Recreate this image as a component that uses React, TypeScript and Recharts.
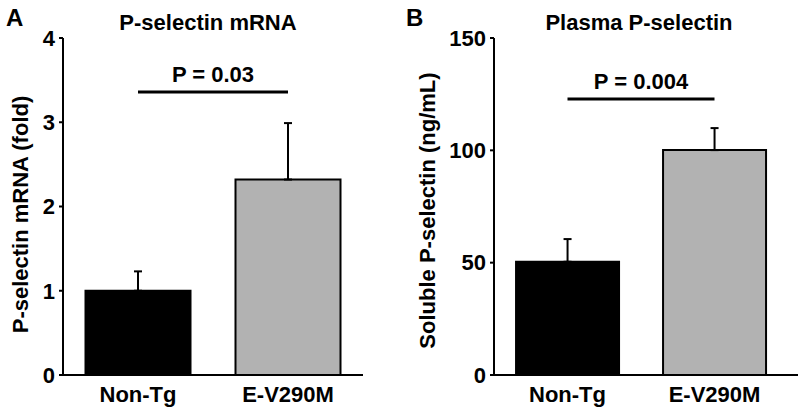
import { BarChart, Bar, XAxis, YAxis, ErrorBar, Cell, ReferenceLine } from "recharts";

const groups = ["Non-Tg", "E-V290M"];
const barColors = ["#000000", "#b2b2b2"];

// panel A: P-selectin mRNA (fold)
const mrnaFold = [1.0, 2.32];
const mrnaSem = [0.23, 0.67];
const mrnaTicks = [0, 1, 2, 3, 4];
const mrnaP = "P = 0.03";
const mrnaBracket = 3.36;

// panel B: soluble P-selectin (ng/mL)
const plasmaLevel = [50.4, 100.1];
const plasmaSem = [10.1, 9.8];
const plasmaTicks = [0, 50, 100, 150];
const plasmaP = "P = 0.004";
const plasmaBracket = 122.8;

const font = "'Liberation Sans', Arial, sans-serif";
const txt = { fill: "#000", fontSize: 22, fontWeight: "bold", fontFamily: font };
const axisStroke = { stroke: "#000", strokeWidth: 2 };

type PanelProps = {
  left: number;
  letter: string;
  title: string;
  titleX: number;
  yLabel: string;
  yWidth: number;
  marginRight: number;
  padRight: number;
  values: number[];
  sems: number[];
  ticks: number[];
  pText: string;
  bracket: number;
  labelDx: number;
  labelDy: number;
};

function Panel(p: PanelProps) {
  const data = groups.map((g, i) => ({ name: g, value: p.values[i], err: [0, p.sems[i]] }));
  return (
    <div style={{ position: "absolute", left: p.left, top: 0, width: 400, height: 412 }}>
      <div style={{ position: "absolute", left: 6, top: 6, fontSize: 24, lineHeight: "24px" }}>{p.letter}</div>
      <div
        style={{
          position: "absolute",
          left: p.titleX - 150,
          width: 300,
          top: 12,
          textAlign: "center",
          fontSize: 22,
          lineHeight: "22px",
        }}
      >
        {p.title}
      </div>
      <BarChart
        width={400}
        height={412}
        data={data}
        margin={{ top: 38, right: p.marginRight, bottom: 0, left: 0 }}
        barCategoryGap="15%"
      >
        <XAxis
          dataKey="name"
          height={37}
          axisLine={axisStroke}
          tickLine={false}
          tickSize={0}
          tickMargin={11}
          fontSize={22}
          fontWeight="bold"
          tick={txt}
          padding={{ left: 0, right: p.padRight }}
        />
        <YAxis
          domain={[0, p.ticks[p.ticks.length - 1]]}
          ticks={p.ticks}
          width={p.yWidth}
          axisLine={axisStroke}
          tickLine={axisStroke}
          tickSize={4}
          tickMargin={4}
          fontSize={22}
          fontWeight="bold"
          tick={txt}
          label={{ value: p.yLabel, angle: -90, position: "center", dx: p.labelDx, dy: p.labelDy, ...txt }}
        />
        <ReferenceLine
          segment={[
            { x: groups[0], y: p.bracket },
            { x: groups[1], y: p.bracket },
          ]}
          stroke="#000"
          strokeWidth={3}
          label={{ value: p.pText, position: "top", offset: 10, ...txt }}
        />
        <Bar dataKey="value" stroke="#000" strokeWidth={2} isAnimationActive={false}>
          {data.map((d, i) => (
            <Cell key={d.name} fill={barColors[i]} />
          ))}
          <ErrorBar dataKey="err" direction="y" width={4} stroke="#000" strokeWidth={2} isAnimationActive={false} />
        </Bar>
      </BarChart>
    </div>
  );
}

export default function App() {
  return (
    <div
      style={{
        position: "absolute",
        left: 0,
        top: 0,
        width: 800,
        height: 412,
        background: "#fff",
        fontFamily: font,
        fontWeight: "bold",
        fontSize: 22,
        color: "#000",
      }}
    >
      <Panel
        left={0}
        letter="A"
        title="P-selectin mRNA"
        titleX={208}
        yLabel="P-selectin mRNA (fold)"
        yWidth={63}
        marginRight={37}
        padRight={0}
        values={mrnaFold}
        sems={mrnaSem}
        ticks={mrnaTicks}
        pText={mrnaP}
        bracket={mrnaBracket}
        labelDx={-11}
        labelDy={8}
      />
      <Panel
        left={400}
        letter="B"
        title="Plasma P-selectin"
        titleX={239}
        yLabel="Soluble P-selectin (ng/mL)"
        yWidth={94}
        marginRight={2}
        padRight={10}
        values={plasmaLevel}
        sems={plasmaSem}
        ticks={plasmaTicks}
        pText={plasmaP}
        bracket={plasmaBracket}
        labelDx={-20}
        labelDy={4}
      />
    </div>
  );
}
